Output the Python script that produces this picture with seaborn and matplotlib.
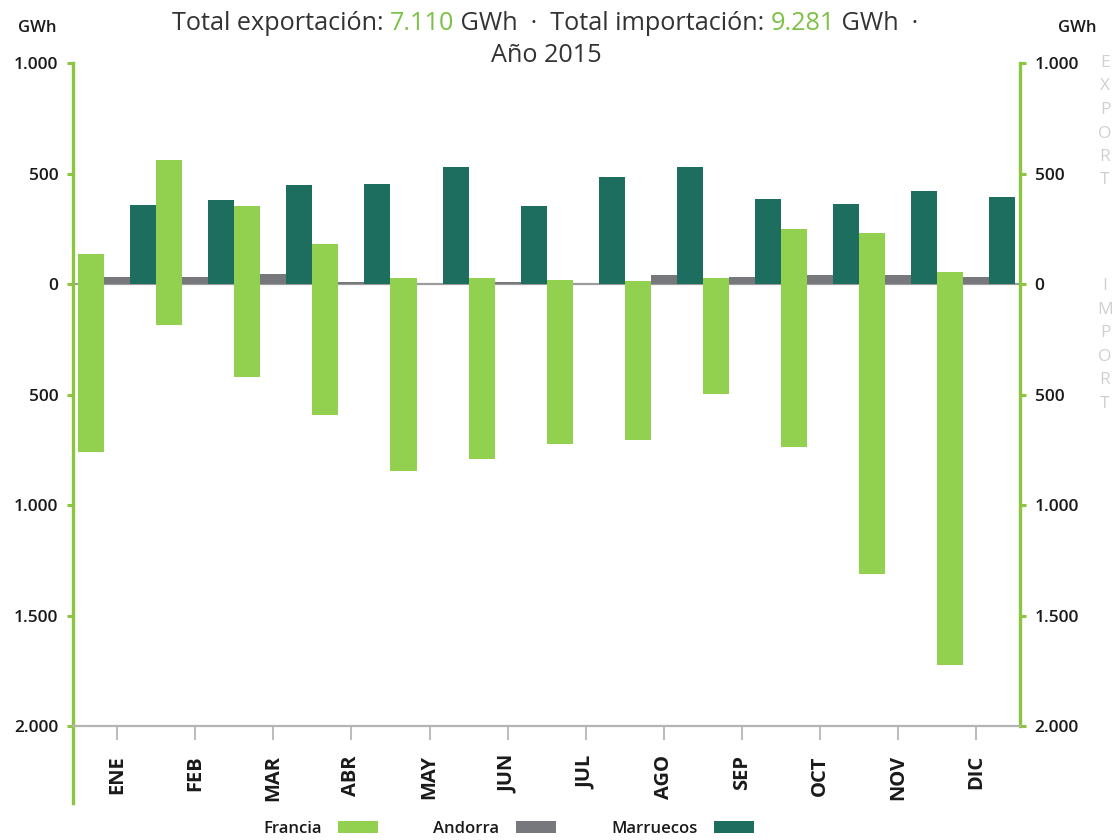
import matplotlib
matplotlib.use("Agg")
import matplotlib.pyplot as plt
import seaborn as sns
import pandas as pd
import numpy as np
from matplotlib.ticker import FuncFormatter

# Intercambios internacionales de electricidad, 2015 (GWh)
months = ["ENE", "FEB", "MAR", "ABR", "MAY", "JUN",
          "JUL", "AGO", "SEP", "OCT", "NOV", "DIC"]
countries = ["Francia", "Andorra", "Marruecos"]

francia_exp = [136, 562, 353, 180, 26, 26, 19, 12, 27, 248, 229, 54]
andorra_exp = [33, 33, 44, 9, 2, 9, 2, 39, 32, 43, 39, 32]
marruecos_exp = [359, 379, 449, 454, 531, 354, 486, 531, 383, 361, 421, 395]
francia_imp = [760, 186, 421, 591, 848, 792, 722, 706, 496, 737, 1314, 1724]
andorra_imp = [0, 0, 0, 0, 0, 0, 0, 0, 0, 0, 0, 0]
marruecos_imp = [0, 0, 0, 0, 0, 0, 0, 0, 0, 0, 0, 0]

total_exp = "7.110"
total_imp = "9.281"
year = "2015"
y_ticks = [-2000, -1500, -1000, -500, 0, 500, 1000]

LIGHT = "#92d14f"
GREY = "#77787b"
TEAL = "#1d6e5e"
AXIS_GREEN = "#8cc63f"
NUM_GREEN = "#7cc144"
TXT = "#333333"

W, H = 1116, 840

sns.set_theme(style="white")
plt.rcParams["font.family"] = ["Open Sans", "DejaVu Sans"]

exp = pd.DataFrame({
    "Mes": months * 3,
    "País": [c for c in countries for _ in months],
    "GWh": francia_exp + andorra_exp + marruecos_exp,
})
imp = pd.DataFrame({
    "Mes": months * 3,
    "País": [c for c in countries for _ in months],
    "GWh": [-v for v in francia_imp + andorra_imp + marruecos_imp],
})

fig = plt.figure(figsize=(W / 100, H / 100), dpi=100)
ax = fig.add_axes([73 / W, 37 / H, 947 / W, 740 / H])

palette = dict(zip(countries, [LIGHT, GREY, TEAL]))
ax.axhline(0, color="#9c9c9c", lw=1.6, zorder=0.5)
sns.barplot(data=exp, x="Mes", y="GWh", hue="País", order=months,
            hue_order=countries, palette=palette, width=1.0, gap=0,
            errorbar=None, linewidth=0, saturation=1, ax=ax)
sns.barplot(data=imp, x="Mes", y="GWh", hue="País", order=months,
            hue_order=countries, palette=palette, width=1.0, gap=0,
            errorbar=None, linewidth=0, saturation=1, legend=False, ax=ax)

ax.set_xlim(-0.567, 11.564)
ax.set_ylim(-2348, 1000)
ax.set_xlabel("")
ax.set_ylabel("")

# spines
for s in ["left", "right"]:
    ax.spines[s].set_color(AXIS_GREEN)
    ax.spines[s].set_linewidth(2.4)
ax.spines["right"].set_bounds(-2000, 1000)
ax.spines["top"].set_visible(False)
ax.spines["bottom"].set_position(("data", -2000))
ax.spines["bottom"].set_color("#b4b4b4")
ax.spines["bottom"].set_linewidth(1.6)

ax.set_yticks(y_ticks)
ax.yaxis.set_major_formatter(FuncFormatter(lambda v, p: f"{abs(int(v)):,}".replace(",", ".")))
ax.tick_params(axis="y", left=True, right=True, labelleft=True, labelright=True,
               direction="out", length=4.5, width=2.2, color=AXIS_GREEN,
               labelsize=12.5, labelcolor="#1a1a1a", pad=6)
for lab in ax.get_yticklabels():
    lab.set_fontweight("semibold")

ax.set_xticks(range(len(months)), months)
ax.tick_params(axis="x", bottom=True, direction="out", length=10, width=1.5,
               color="#bdbdbd", pad=11, labelsize=14.5, labelcolor="#1a1a1a",
               labelrotation=90)
for lab in ax.get_xticklabels():
    lab.set_fontweight("bold")

# legend under the chart, label before the swatch
sns.move_legend(ax, "center", bbox_to_anchor=(0.4600, -0.0345), ncol=3,
                title=None, frameon=False, markerfirst=False,
                handlelength=2.4, handleheight=0.75, handletextpad=1.0,
                columnspacing=3.3, prop={"weight": "semibold", "size": 12})
for t in ax.get_legend().get_texts():
    t.set_color("#1a1a1a")

# units
for x in (37, 1077):
    fig.text(x / W, 1 - 28 / H, "GWh", ha="center", va="center",
             fontsize=12, fontweight="semibold", color="#1a1a1a")

# EXPORT / IMPORT side labels
for word, y0 in (("EXPORT", 63), ("IMPORT", 286)):
    for i, ch in enumerate(word):
        fig.text(1105 / W, 1 - (y0 + i * 23.5) / H, ch, ha="center", va="center",
                 fontsize=12.5, color="#d0d0d0")

# title with coloured figures
renderer = fig.canvas.get_renderer()


def text_width(s, size):
    t = fig.text(0, 0, s, fontsize=size)
    w = t.get_window_extent(renderer).width
    t.remove()
    return w


def colored_line(parts, cx, base_y, size):
    full = "".join(p for p, _ in parts)
    total = text_width(full, size)
    bar_w = text_width("|", size)
    prefix = ""
    for s, c in parts:
        off = text_width(prefix + "|", size) - bar_w if prefix else 0
        fig.text((cx - total / 2 + off) / W, 1 - base_y / H, s, color=c,
                 fontsize=size, ha="left", va="baseline")
        prefix += s


title_size = 18.2
colored_line([("Total exportación: ", TXT), (total_exp, NUM_GREEN),
              (" GWh  ·  Total importación: ", TXT), (total_imp, NUM_GREEN),
              (" GWh  ·", TXT)], 545, 30, title_size)
colored_line([(f"Año {year}", TXT)], 546, 62, title_size)

fig.savefig("out.png", dpi=100)
